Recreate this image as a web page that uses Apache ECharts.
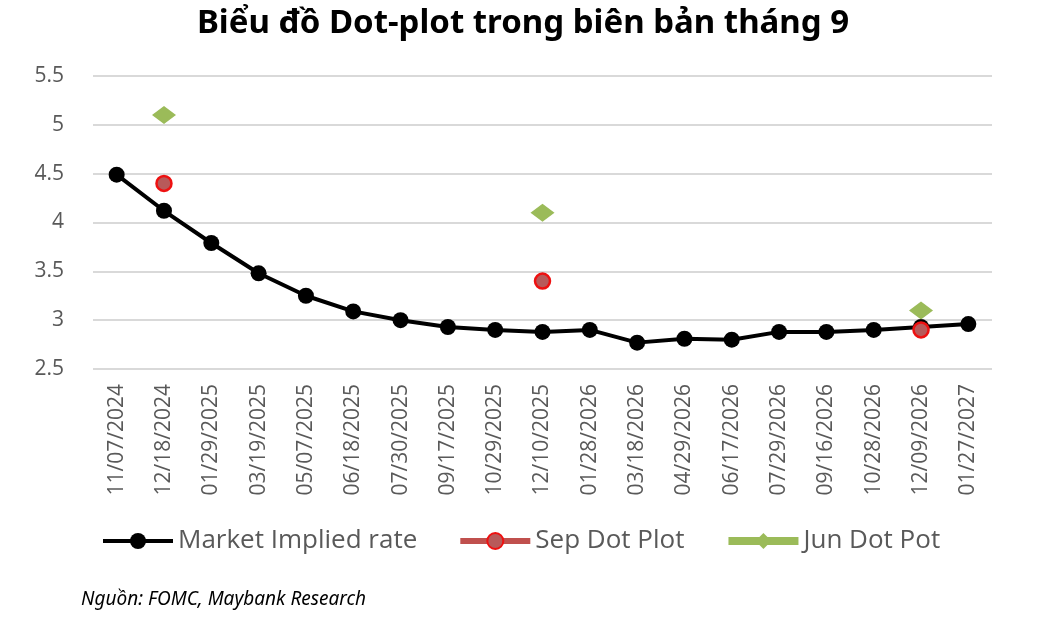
<!DOCTYPE html>
<html>
<head>
<meta charset="utf-8">
<title>Dot-plot</title>
<script src="https://cdn.jsdelivr.net/npm/echarts@6/dist/echarts.min.js"></script>
<style>
  html, body { margin: 0; padding: 0; background: #fff; }
  #chart { width: 1046px; height: 624px; }
</style>
</head>
<body>
<div id="chart"></div>
<script>
// ngày họp FOMC
var dates = ['11/07/2024', '12/18/2024', '01/29/2025', '03/19/2025', '05/07/2025', '06/18/2025',
  '07/30/2025', '09/17/2025', '10/29/2025', '12/10/2025', '01/28/2026', '03/18/2026',
  '04/29/2026', '06/17/2026', '07/29/2026', '09/16/2026', '10/28/2026', '12/09/2026', '01/27/2027']
var marketRate = [4.49, 4.12, 3.79, 3.48, 3.25, 3.09, 3.0, 2.93, 2.9, 2.88, 2.9, 2.77,
  2.81, 2.8, 2.88, 2.88, 2.9, 2.93, 2.96]
var sepDots = [null, 4.4, null, null, null, null, null, null, null, 3.4, null, null,
  null, null, null, null, null, 2.9, null]
var junDots = [null, 5.1, null, null, null, null, null, null, null, 4.1, null, null,
  null, null, null, null, null, 3.1, null]
var yTicks = { min: 2.5, max: 5.5, step: 0.5 }

var chart = echarts.init(document.getElementById('chart'))
var option = {
  animation: false,
  title: [
    {
      text: 'Biểu đồ Dot-plot trong biên bản tháng 9',
      left: 'center',
      top: 2,
      textStyle: { fontFamily: 'Noto Sans', fontWeight: 'bold', fontSize: 33, color: '#000' }
    },
    {
      text: 'Nguồn: FOMC, Maybank Research',
      left: 76,
      top: 585,
      textStyle: { fontFamily: 'Noto Sans', fontStyle: 'italic', fontWeight: 'normal', fontSize: 19, color: '#000' }
    }
  ],
  grid: { left: 93, right: 54, top: 76, bottom: 255, containLabel: false },
  legend: {
    top: 523,
    left: 96,
    itemWidth: 70,
    itemHeight: 20,
    itemGap: 40,
    textStyle: { fontFamily: 'Open Sans', fontSize: 26, color: '#595959' },
    data: [
      { name: 'Market Implied rate', lineStyle: { width: 4 } },
      { name: 'Sep Dot Plot', lineStyle: { color: '#c0504d', width: 6 } },
      { name: 'Jun Dot Pot', lineStyle: { color: '#9bbb59', width: 8 } }
    ]
  },
  xAxis: {
    type: 'category',
    data: dates,
    boundaryGap: true,
    axisLine: { show: false },
    axisTick: { show: false },
    axisLabel: { rotate: 90, margin: 15, fontFamily: 'Open Sans', fontSize: 21, color: '#595959', interval: 0 }
  },
  yAxis: {
    type: 'value',
    min: yTicks.min,
    max: yTicks.max,
    interval: yTicks.step,
    axisLine: { show: false },
    axisTick: { show: false },
    axisLabel: { margin: 29, fontFamily: 'Open Sans', fontSize: 21, color: '#595959' },
    splitLine: { lineStyle: { color: '#d9d9d9', width: 2 } }
  },
  series: [
    {
      name: 'Market Implied rate',
      type: 'line',
      data: marketRate,
      symbol: 'circle',
      symbolSize: 16,
      itemStyle: { color: '#000' },
      lineStyle: { color: '#000', width: 4 }
    },
    {
      name: 'Sep Dot Plot',
      type: 'line',
      data: sepDots,
      symbol: 'circle',
      symbolSize: 15,
      showAllSymbol: true,
      connectNulls: false,
      itemStyle: { color: '#b85a5a', borderColor: '#ee1111', borderWidth: 2.5 },
      lineStyle: { color: '#c0504d', width: 6 }
    },
    {
      name: 'Jun Dot Pot',
      type: 'line',
      data: junDots,
      symbol: 'diamond',
      symbolSize: [24, 18],
      showAllSymbol: true,
      connectNulls: false,
      itemStyle: { color: '#9bbb59' },
      lineStyle: { color: '#9bbb59', width: 8 }
    }
  ]
}
chart.setOption(option)
</script>
</body>
</html>
